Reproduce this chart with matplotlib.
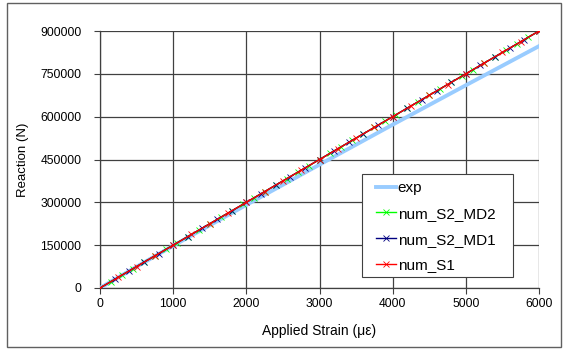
import matplotlib
matplotlib.use("Agg")
import matplotlib.pyplot as plt
from matplotlib.patches import Rectangle

plt.rcParams['font.family'] = ['Liberation Sans', 'DejaVu Sans']

x_ticks = [0, 1000, 2000, 3000, 4000, 5000, 6000]
y_ticks = [0, 150000, 300000, 450000, 600000, 750000, 900000]

exp_strain = [0, 500, 1000, 2000, 3000, 4000, 5000, 6000]
exp_reaction = [0, 74500, 148000, 291000, 432000, 572000, 710000, 847000]

md2_strain = [0, 150, 300, 450, 600, 750, 900, 1050, 1200, 1350, 1500, 1650, 1800, 1950,
              2100, 2250, 2400, 2550, 2700, 2850, 3000, 3150, 3300, 3450, 3600, 3750,
              3900, 4050, 4200, 4350, 4500, 4650, 4800, 4950, 5100, 5250, 5400, 5550,
              5700, 5850, 6000]
md2_reaction = [0, 22500, 45000, 67500, 90000, 112500, 135000, 157500, 180000, 202500,
                225000, 247500, 270000, 292500, 315000, 337500, 360000, 382500, 405000,
                427500, 450000, 472500, 495000, 517500, 540000, 562500, 585000, 607500,
                630000, 652500, 675000, 697500, 720000, 742500, 765000, 787500, 810000,
                832500, 855000, 877500, 900000]

md1_strain = [0, 200, 400, 600, 800, 1000, 1200, 1400, 1600, 1800, 2000, 2200, 2400,
              2600, 2800, 3000, 3200, 3400, 3600, 3800, 4000, 4200, 4400, 4600, 4800,
              5000, 5200, 5400, 5600, 5800, 6000]
md1_reaction = [0, 30000, 60000, 90000, 120000, 150000, 180000, 210000, 240000, 270000,
                300000, 330000, 360000, 390000, 420000, 450000, 480000, 510000, 540000,
                570000, 600000, 630000, 660000, 690000, 720000, 750000, 780000, 810000,
                840000, 870000, 900000]

s1_strain = [0, 250, 500, 750, 1000, 1250, 1500, 1750, 2000, 2250, 2500, 2750, 3000,
             3250, 3500, 3750, 4000, 4250, 4500, 4750, 5000, 5250, 5500, 5750, 6000]
s1_reaction = [0, 37500, 75000, 112500, 150000, 187500, 225000, 262500, 300000, 337500,
               375000, 412500, 450000, 487500, 525000, 562500, 600000, 637500, 675000,
               712500, 750000, 787500, 825000, 862500, 900000]

W, H = 567, 351
fig = plt.figure(figsize=(W / 100, H / 100), dpi=100)
fig.patches.append(Rectangle((7/W, 1 - 347/H), (561 - 7)/W, (347 - 3)/H,
                             transform=fig.transFigure, fill=False,
                             edgecolor='#606060', linewidth=1.0))
ax = fig.add_axes([100/W, 1 - 288/H, 439/W, 257/H])

mk = dict(marker='x', markersize=4.5, markeredgewidth=0.6, linewidth=1.0)
ax.plot(exp_strain, exp_reaction, color='#99CCFF', linewidth=2.8, label='exp', zorder=3)
ax.plot(md2_strain, md2_reaction, color='#00FF00', label='num_S2_MD2', zorder=4, **mk)
ax.plot(md1_strain, md1_reaction, color='#000080', label='num_S2_MD1', zorder=5, **mk)
ax.plot(s1_strain, s1_reaction, color='#FF0000', label='num_S1', zorder=6, **mk)

ax.set_xlim(0, 6000)
ax.set_ylim(0, 900000)
ax.set_xticks(x_ticks)
ax.set_yticks(y_ticks)
ax.set_xticklabels([str(v) for v in x_ticks])
ax.set_yticklabels([str(v) for v in y_ticks])
ax.tick_params(axis='both', labelsize=8.7, length=4, width=0.8, color='#404040',
               direction='out')
ax.tick_params(axis='y', pad=9.5)
ax.tick_params(axis='x', pad=3)
ax.grid(True, color='#404040', linewidth=0.9)
ax.set_axisbelow(True)
for s in ['top', 'right']:
    ax.spines[s].set_visible(False)
for s in ['left', 'bottom']:
    ax.spines[s].set_color('#404040')
    ax.spines[s].set_linewidth(0.9)

ax.set_xlabel('Applied Strain (\u03bc\u03b5)', fontsize=10, labelpad=10)
ax.set_ylabel('Reaction (N)', fontsize=9.5, labelpad=8)

# legend box
box = Rectangle((362/W, 1 - 277/H), (513 - 362)/W, (277 - 174)/H,
                transform=fig.transFigure, facecolor='white', edgecolor='#404040',
                linewidth=0.8, zorder=7, clip_on=False)
ax.add_patch(box)
leg = ax.legend(loc='upper left', bbox_to_anchor=(376/W, 1 - 181/H),
                bbox_transform=fig.transFigure, fontsize=11, frameon=False,
                handlelength=1.3, handletextpad=0.13, borderpad=0,
                labelspacing=0.77, borderaxespad=0)
leg.set_zorder(8)

fig.savefig('out.png', dpi=100)
